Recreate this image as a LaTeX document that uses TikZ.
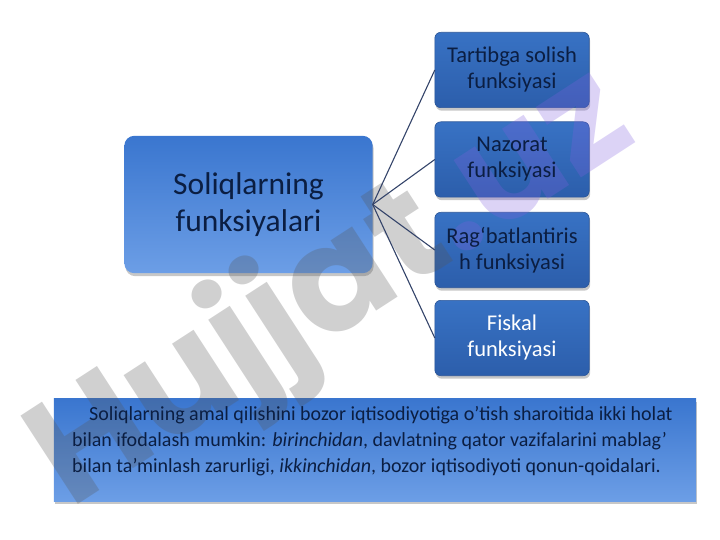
\documentclass[tikz,border=0pt]{standalone}
\usepackage{fontspec}
\setmainfont{Carlito}
\newfontfamily\wmfont{Poppins}
\usetikzlibrary{calc}
\pgfdeclarelayer{bg}
\pgfdeclarelayer{wm}
\pgfsetlayers{bg,wm,main}
\definecolor{navy}{HTML}{0B1E42}
\definecolor{cTop}{HTML}{3A76CF}
\definecolor{cBot}{HTML}{6C9EE6}
\definecolor{rTop}{HTML}{3872C4}
\definecolor{rBot}{HTML}{2C5EAB}
\definecolor{rEdge}{HTML}{2A5598}
\definecolor{lineC}{HTML}{34446A}
\definecolor{wmGray}{HTML}{555555}
\definecolor{wmPurple}{HTML}{8060DF}
\tikzset{
  central/.style={minimum width=248pt, minimum height=137pt, inner sep=0pt, align=center,
    text=navy, font=\fontsize{31.5}{37}\selectfont},
  rbox/.style={minimum width=154pt, minimum height=75pt, inner sep=0pt, align=center,
    text=navy, font=\fontsize{22.5}{26}\selectfont},
  bbox/.style={minimum width=642pt, minimum height=102pt, inner sep=0pt},
  btext/.style={anchor=base west, inner sep=0pt, align=left, text=navy,
    font=\fontsize{20}{26}\selectfont},
  conn/.style={draw=lineC, line width=1.1pt},
  shadowfill/.style={fill=black, opacity=.22},
}
\begin{document}
\begin{tikzpicture}[x=1pt,y=-1pt]
\useasboundingbox (0,0) rectangle (720,540);
\node[central] (c) at (248.5,204.5) {Soliqlarning\\funksiyalari};
\node[rbox] (r1) at (512,70) {Tartibga solish\\funksiyasi};
\node[rbox] (r2) at (512,159.5) {Nazorat\\funksiyasi};
\node[rbox] (r3) at (512,250) {Rag‘batlantiris\\h funksiyasi};
\node[rbox, text=white] (r4) at (512,338) {Fiskal\\funksiyasi};
\node[bbox] (b) at (375,450) {};
\node[btext] (bt) at (72,472) {\hspace*{17pt}Soliqlarning amal qilishini bozor iqtisodiyotiga o’tish sharoitida ikki holat\\
bilan ifodalash mumkin: \textit{birinchidan}, davlatning qator vazifalarini mablag’\\
bilan ta’minlash zarurligi, \textit{ikkinchidan}, bozor iqtisodiyoti qonun-qoidalari.};
\foreach \n in {r1,r2,r3,r4} \draw[conn] (c.east) -- (\n.west);
\begin{pgfonlayer}{bg}
  \fill[shadowfill, rounded corners=10pt] ([shift={(1,3)}]c.north west) rectangle ([shift={(1,3)}]c.south east);
  \shade[rounded corners=10pt, top color=cTop, bottom color=cBot] (c.north west) rectangle (c.south east);
  \foreach \n in {r1,r2,r3,r4}{
    \fill[shadowfill, rounded corners=6pt] ([shift={(1,3)}]\n.north west) rectangle ([shift={(1,3)}]\n.south east);
    \shadedraw[rounded corners=6pt, top color=rTop, bottom color=rBot, draw=rEdge, line width=.6pt] (\n.north west) rectangle (\n.south east);
  }
  \fill[shadowfill] ([shift={(1,3)}]b.north west) rectangle ([shift={(1,3)}]b.south east);
  \shade[top color=cTop, bottom color=cBot] (b.north west) rectangle (b.south east);
\end{pgfonlayer}
\begin{pgfonlayer}{wm}
  \node[anchor=base west, rotate=33, inner sep=0pt, opacity=.28,
    font=\wmfont\bfseries\fontsize{150}{150}\selectfont, text=wmGray] (wm) at (70,510)
    {Hujjat\textcolor{wmPurple}{.uz}};
\end{pgfonlayer}
\end{tikzpicture}
\end{document}
